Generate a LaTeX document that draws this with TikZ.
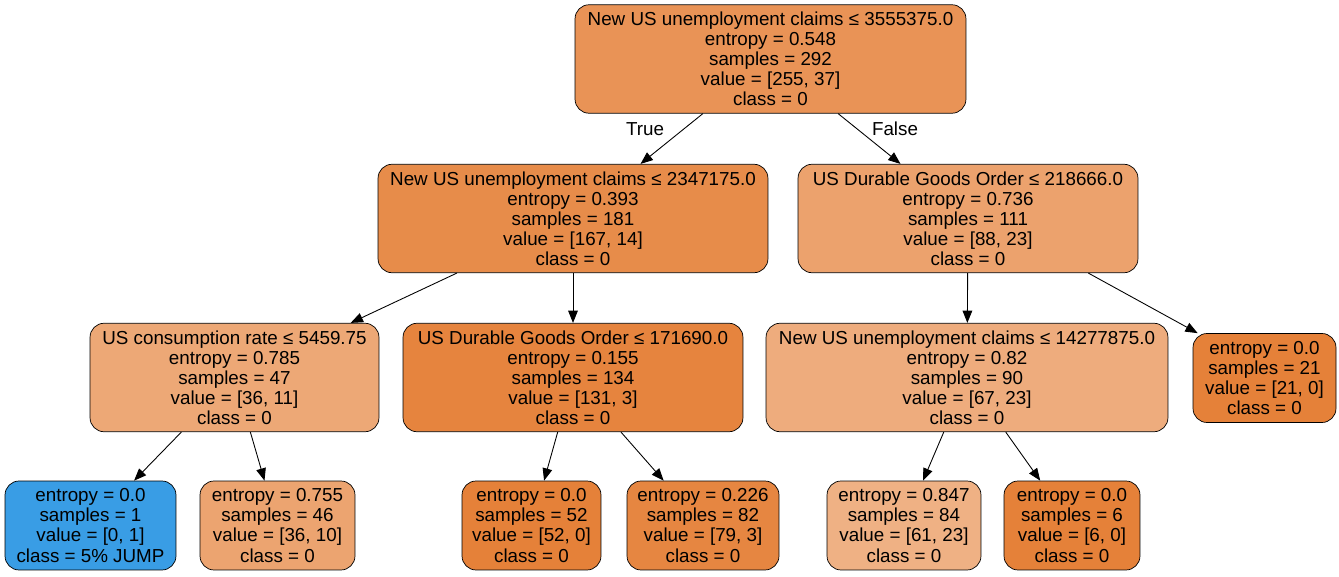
\documentclass[tikz,border=0pt]{standalone}
\usepackage{fontspec}
\setmainfont{Liberation Sans}
\usetikzlibrary{arrows.meta}
\definecolor{c0}{RGB}{233,147,86}
\definecolor{c1}{RGB}{231,140,74}
\definecolor{c2}{RGB}{236,162,109}
\definecolor{c3}{RGB}{237,168,118}
\definecolor{c4}{RGB}{230,132,62}
\definecolor{c5}{RGB}{238,172,125}
\definecolor{cfull}{RGB}{229,129,57}
\definecolor{cjump}{RGB}{57,157,229}
\definecolor{c8}{RGB}{236,164,112}
\definecolor{c10}{RGB}{230,134,65}
\definecolor{c11}{RGB}{239,177,132}
\tikzset{
  >={Triangle[length=7pt,width=5.5pt]},
  tnode/.style={draw=black, rounded corners=8pt, align=center, inner sep=1pt,
    font=\fontsize{10.7}{11.4}\selectfont, minimum height=2.17cm},
  leaf/.style={tnode, minimum height=1.78cm},
  edge/.style={->, black, line width=0.5pt},
  elabel/.style={font=\fontsize{10.7}{11.4}\selectfont}
}

\begin{document}
\begin{tikzpicture}[x=0.02cm, y=-0.02cm]
\useasboundingbox (0,0) rectangle (1339,577);
% level 0
\node[tnode, fill=c0, minimum width=7.82cm] (root) at (770.5,59)
  {New US unemployment claims ≤ 3555375.0\\entropy = 0.548\\samples = 292\\value = [255, 37]\\class = 0};
% level 1
\node[tnode, fill=c1, minimum width=7.8cm] (n1) at (573,218.5)
  {New US unemployment claims ≤ 2347175.0\\entropy = 0.393\\samples = 181\\value = [167, 14]\\class = 0};
\node[tnode, fill=c2, minimum width=6.8cm] (n2) at (968,218.5)
  {US Durable Goods Order ≤ 218666.0\\entropy = 0.736\\samples = 111\\value = [88, 23]\\class = 0};
% level 2
\node[tnode, fill=c3, minimum width=5.78cm] (n3) at (234.5,377.5)
  {US consumption rate ≤ 5459.75\\entropy = 0.785\\samples = 47\\value = [36, 11]\\class = 0};
\node[tnode, fill=c4, minimum width=6.8cm] (n4) at (573,377.5)
  {US Durable Goods Order ≤ 171690.0\\entropy = 0.155\\samples = 134\\value = [131, 3]\\class = 0};
\node[tnode, fill=c5, minimum width=8.04cm] (n5) at (967,377.5)
  {New US unemployment claims ≤ 14277875.0\\entropy = 0.82\\samples = 90\\value = [67, 23]\\class = 0};
\node[leaf, fill=cfull, minimum width=2.86cm] (n6) at (1264.5,378)
  {entropy = 0.0\\samples = 21\\value = [21, 0]\\class = 0};
% level 3
\node[leaf, fill=cjump, minimum width=3.42cm] (n7) at (90.5,525.5)
  {entropy = 0.0\\samples = 1\\value = [0, 1]\\class = 5\% JUMP};
\node[leaf, fill=c8, minimum width=3.1cm] (n8) at (277.5,525.5)
  {entropy = 0.755\\samples = 46\\value = [36, 10]\\class = 0};
\node[leaf, fill=cfull, minimum width=2.78cm] (n9) at (531.5,525.5)
  {entropy = 0.0\\samples = 52\\value = [52, 0]\\class = 0};
\node[leaf, fill=c10, minimum width=3.04cm] (n10) at (703,525.5)
  {entropy = 0.226\\samples = 82\\value = [79, 3]\\class = 0};
\node[leaf, fill=c11, minimum width=3.08cm] (n11) at (904,525.5)
  {entropy = 0.847\\samples = 84\\value = [61, 23]\\class = 0};
\node[leaf, fill=cfull, minimum width=2.72cm] (n12) at (1072,525.5)
  {entropy = 0.0\\samples = 6\\value = [6, 0]\\class = 0};
% edges
\draw[edge] (root) -- (n1);
\draw[edge] (root) -- (n2);
\node[elabel] (ltrue) at (645,129) {True};
\node[elabel] (lfalse) at (895,129) {False};
\draw[edge] (n1) -- (n3);
\draw[edge] (n1) -- (n4);
\draw[edge] (n2) -- (n5);
\draw[edge] ([xshift=-1cm]n2.south east) -- ([xshift=0.1cm]n6.north west);
\draw[edge] (n3) -- (n7);
\draw[edge] (n3) -- (n8);
\draw[edge] (n4) -- (n9);
\draw[edge] (n4) -- (n10);
\draw[edge] (n5) -- (n11);
\draw[edge] (n5) -- (n12);
\end{tikzpicture}
\end{document}
